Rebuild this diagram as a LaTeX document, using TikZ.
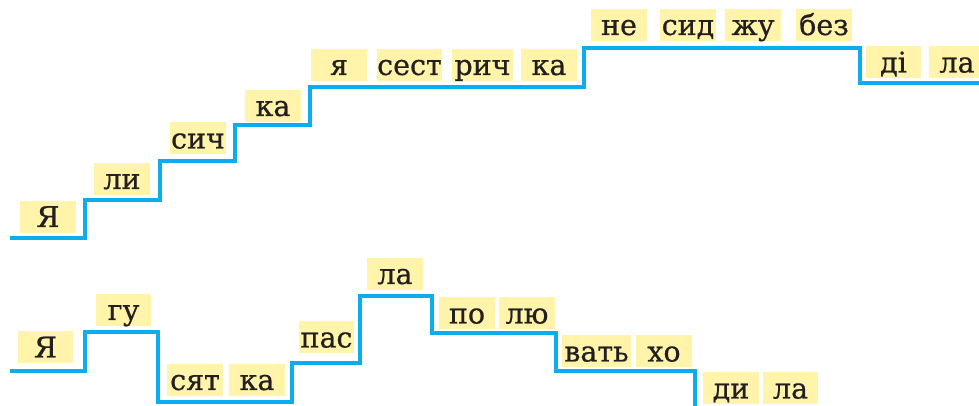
\documentclass[tikz,border=0pt]{standalone}
\usepackage{fontspec}
\setmainfont{DejaVu Serif}
\newfontfamily\sylfont[FakeBold=0.6]{DejaVu Serif}
\definecolor{stairblue}{HTML}{0AAEEC}
\definecolor{syllyellow}{HTML}{FFF4AA}
\definecolor{syltext}{HTML}{231F20}
\tikzset{
  syl/.style={fill=syllyellow, text=syltext, inner sep=0pt, minimum width=56pt, minimum height=32pt,
              text height=20pt, text depth=0pt, font=\sylfont\fontsize{28.5}{30}\selectfont},
  stair/.style={draw=stairblue, line width=3.2pt, line join=miter}
}
\begin{document}
\begin{tikzpicture}[x=1pt,y=1pt]
\useasboundingbox (0,0) rectangle (979,406);
% top staircase
\draw[stair] (10,168) -- (85,168) -- (85,206) -- (160,206) -- (160,245) -- (235,245) -- (235,281)
  -- (310,281) -- (310,319) -- (584,319) -- (584,358) -- (860,358) -- (860,323) -- (979,323);
% bottom staircase
\draw[stair] (10,35) -- (85,35) -- (85,74) -- (158,74) -- (158,4) -- (292,4) -- (292,43)
  -- (360,43) -- (360,110) -- (432,110) -- (432,73) -- (556,73) -- (556,35) -- (695,35) -- (695,0);
% top syllables
\node[syl] (t1) at (48,189) {Я};
\node[syl] (t2) at (122,227) {ли};
\node[syl] (t3) at (198,267.5) {сич};
\node[syl] (t4) at (273,300) {ка};
\node[syl] (t5) at (339,341) {я};
\node[syl, minimum width=61pt] (t6) at (409.5,341) {сест};
\node[syl, minimum width=61pt] (t7) at (482.5,341) {рич};
\node[syl] (t8) at (549,341) {ка};
\node[syl] (t9) at (619,381) {не};
\node[syl] (t10) at (688,381) {сид};
\node[syl] (t11) at (753,381) {жу};
\node[syl] (t12) at (824,381) {без};
\node[syl, minimum width=55pt] (t13) at (893.5,343.5) {ді};
\node[syl] (t14) at (957,343.5) {ла};
% bottom syllables
\node[syl, minimum width=55pt] (b1) at (45.5,58.5) {Я};
\node[syl, minimum width=55pt] (b2) at (123.5,96) {гу};
\node[syl] (b3) at (195,26) {сят};
\node[syl] (b4) at (257,26) {ка};
\node[syl, minimum width=55pt] (b5) at (326.5,68.5) {пас};
\node[syl] (b6) at (395,132) {ла};
\node[syl] (b7) at (467,92.5) {по};
\node[syl] (b8) at (527,92.5) {лю};
\node[syl, minimum width=69pt] (b9) at (596.5,54.5) {вать};
\node[syl] (b10) at (664,54.5) {хо};
\node[syl] (b11) at (731,17.5) {ди};
\node[syl, minimum width=55pt] (b12) at (790.5,17.5) {ла};
\end{tikzpicture}
\end{document}
